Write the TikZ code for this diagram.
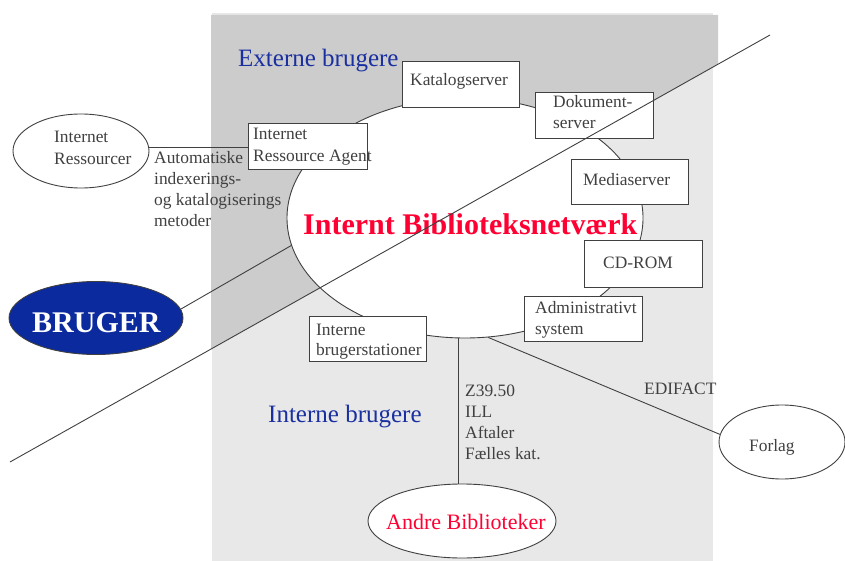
\documentclass[tikz,border=0pt]{standalone}
\usepackage{fontspec}
\setmainfont{Liberation Serif}
\usetikzlibrary{shapes.geometric}
\definecolor{txtgray}{HTML}{404040}
\definecolor{darkbg}{HTML}{CCCCCC}
\definecolor{lightbg}{HTML}{E8E8E8}
\definecolor{myblue}{HTML}{1A2FA0}
\definecolor{brugerblue}{HTML}{0A2A9E}
\definecolor{myred}{HTML}{FF0033}
\begin{document}
\begin{tikzpicture}[x=1pt,y=-1pt,
  every node/.style={text=txtgray, font=\fontsize{17.4}{21.5}\selectfont},
  conn/.style={draw=txtgray, line width=0.9pt},
  boxnode/.style={draw=txtgray, fill=white, line width=0.9pt, rectangle, inner sep=0pt, minimum width=118pt, minimum height=46pt},
  ellnode/.style={draw=txtgray, fill=white, line width=0.9pt, ellipse, inner sep=0pt},
  txt/.style={inner sep=0pt, anchor=base west},
  bluetxt/.style={txt, text=myblue, font=\fontsize{25}{30}\selectfont},
]
\useasboundingbox (0,0) rectangle (845,561);
% backgrounds
\fill[lightbg] (212,13) rectangle (713,561);
\fill[darkbg] (211,15) -- (718,15) -- (718,64.2) -- (211,349.1) -- cycle;

% ellipses
\node[ellnode, minimum width=356pt, minimum height=240pt] (net) at (465,218) {};
\node[ellnode, minimum width=136pt, minimum height=74pt] (irs) at (81,151) {};
\node[ellnode, fill=brugerblue, minimum width=174pt, minimum height=73pt] (bruger) at (96,318) {};
\node[ellnode, minimum width=126pt, minimum height=74pt] (forlag) at (782,442) {};
\node[ellnode, minimum width=188pt, minimum height=74pt] (andre) at (462,521) {};

% boxes
\node[boxnode, minimum width=117pt] (kat) at (460.5,84) {};
\node[boxnode] (dok) at (594,115) {};
\node[boxnode, minimum width=119pt] (agent) at (307.5,146) {};
\node[boxnode, minimum width=117pt, minimum height=45pt] (media) at (629.5,181.5) {};
\node[boxnode, minimum height=47pt] (cd) at (643,263.5) {};
\node[boxnode, minimum height=45pt] (admin) at (583,318.5) {};
\node[boxnode, minimum width=117pt, minimum height=45pt] (interne) at (367.5,338.5) {};

% connectors
\draw[conn] (irs.3.4) -- (irs.3.4 -| agent.west);
\draw[conn] (bruger.6) -- (net.189.5);
\draw[conn] (andre.95) -- (andre.95 |- net.south);
\draw[conn] (net.281) -- (forlag.173);

% box texts
\node[txt] (katt) at (410,86) {Katalogserver};
\node[txt] (dokt1) at (553,108) {Dokument-};
\node[txt] (dokt2) at (553,129) {server};
\node[txt] (agentt1) at (253,140) {Internet};
\node[txt] (agentt2) at (253,162) {Ressource Agent};
\node[txt] (mediat) at (583,186) {Mediaserver};
\node[txt] (cdt) at (603,269) {CD-ROM};
\node[txt] (admint1) at (535,313) {Administrativt};
\node[txt] (admint2) at (535,334) {system};
\node[txt] (internet1) at (316,335) {Interne};
\node[txt] (internet2) at (316,355) {brugerstationer};

% ellipse texts
\node[txt] (irst1) at (54,143) {Internet};
\node[txt] (irst2) at (54,165) {Ressourcer};
\node[txt] (forlagt) at (749,451) {Forlag};
\node[txt, text=myred, font=\fontsize{22}{26}\selectfont] (andret) at (386,529) {Andre Biblioteker};
\node[txt, text=white, font=\fontsize{30}{36}\selectfont\bfseries] (brugert) at (32,332) {BRUGER};
\node[txt, text=myred, font=\fontsize{30}{36}\selectfont\bfseries] (nett) at (303,234) {Internt Biblioteksnetværk};

% connector labels
\node[txt] (auto1) at (154,164) {Automatiske};
\node[txt] (auto2) at (154,185) {indexerings-};
\node[txt] (auto3) at (154,206) {og katalogiserings};
\node[txt] (auto4) at (154,227) {metoder};
\node[txt] (z1) at (465,396) {Z39.50};
\node[txt] (z2) at (465,417) {ILL};
\node[txt] (z3) at (465,438) {Aftaler};
\node[txt] (z4) at (465,459) {Fælles kat.};
\node[txt] (edi) at (644,394) {EDIFACT};

% region labels
\node[bluetxt] (ext) at (238,67) {Externe brugere};
\node[bluetxt] (intb) at (268,422) {Interne brugere};

% dividing line
\coordinate (d1) at (10,462);
\coordinate (d2) at (770,35);
\draw[conn] (d1) -- (d2);
\end{tikzpicture}
\end{document}
